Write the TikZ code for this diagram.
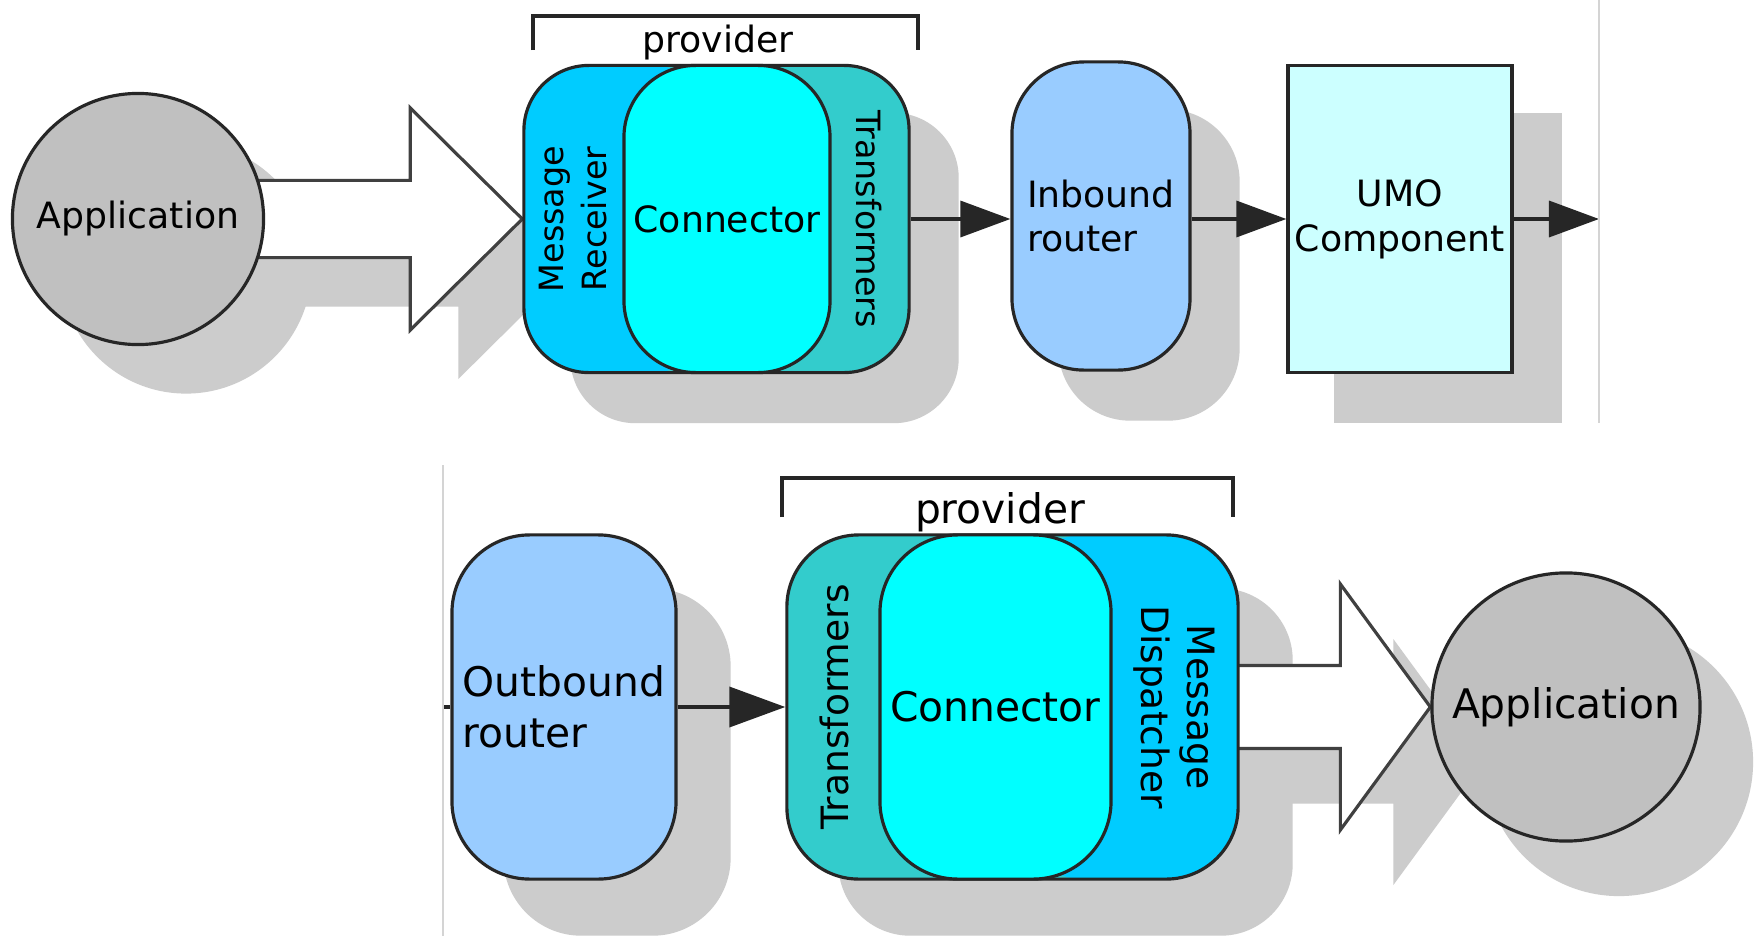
\documentclass[tikz,border=0pt]{standalone}
\usepackage{fontspec}
\newfontfamily\dejavu{DejaVu Sans}
\usetikzlibrary{arrows.meta,calc}
\definecolor{appgray}{HTML}{C0C0C0}
\definecolor{shadegray}{HTML}{CCCCCC}
\definecolor{recvblue}{HTML}{00CCFF}
\definecolor{connaqua}{HTML}{00FFFF}
\definecolor{transteal}{HTML}{33CCCC}
\definecolor{routerblue}{HTML}{99CCFF}
\definecolor{umocyan}{HTML}{CCFFFF}
\definecolor{framegray}{HTML}{D4D4D4}
\pgfdeclarelayer{shadows}
\pgfdeclarelayer{under}
\pgfsetlayers{shadows,under,main}

\begin{document}
\begin{tikzpicture}[x=0.01cm, y=-0.01cm,
  toptext/.style={font=\dejavu\fontsize{10.3}{12.7}\selectfont},
  topside/.style={font=\dejavu\fontsize{9.5}{12.4}\selectfont, align=center},
  bottext/.style={font=\dejavu\fontsize{11.6}{14.6}\selectfont},
  botside/.style={font=\dejavu\fontsize{10.7}{13}\selectfont, align=center},
  outline/.style={draw=black!85, line width=0.9pt, inner sep=0pt},
  appnode/.style={outline, circle, fill=appgray},
  provnode/.style={outline},
  connnode/.style={outline, fill=connaqua},
  routernode/.style={outline, fill=routerblue, align=left},
  umonode/.style={outline, fill=umocyan, align=center},
  flow/.style={draw=black!85, line width=1pt, -{Triangle[length=5mm,width=3.6mm]}},
  flowbig/.style={draw=black!85, line width=1.1pt, -{Triangle[length=5.6mm,width=4mm]}},
  hollow/.style={draw=black!75, line width=0.9pt, fill=white},
  bracket/.style={draw=black!85, line width=1.1pt},
  topshadow/.style={fill=shadegray, transform canvas={shift={(0.48cm,-0.49cm)}}},
  botshadow/.style={fill=shadegray, transform canvas={shift={(0.53cm,-0.55cm)}}}]
  \useasboundingbox (0,0) rectangle (1756,936);

  % Inbound chain
  \node[appnode, minimum size=2.51cm, toptext] (app1) at (138,219) {Application};
  \node[provnode, fill=transteal, rounded corners=0.65cm, minimum width=3.85cm, minimum height=3.07cm,
    path picture={\fill[recvblue] (path picture bounding box.south west) rectangle (path picture bounding box.north);}]
    (prov1) at (716.5,219) {};
  \node[connnode, rounded corners=0.72cm, minimum width=2.06cm, minimum height=3.07cm, toptext] (conn1) at (727,219) {Connector};
  \node[topside, rotate=90] (recv1) at (573,219) {Message\\Receiver};
  \node[topside, rotate=-90] (trans1) at (869,219) {Transformers};
  \node[routernode, rounded corners=0.72cm, minimum width=1.78cm, minimum height=3.08cm, toptext] (inb1) at (1101,216) {Inbound\\router};
  \node[umonode, minimum width=2.24cm, minimum height=3.07cm, toptext] (umo1) at (1400,219) {UMO\\Component};
  \coordinate (end1) at (1599,219);
  \draw[bracket] (533,50) |- (918,16) -- (918,50);
  \node[toptext] (plab1) at (718,43) {provider};

  \draw[flow] (prov1.east) -- (prov1.east -| inb1.west);
  \draw[flow] (inb1.east |- umo1.west) -- (umo1.west);
  \draw[flow] (umo1.east) -- (end1);

  % Outbound chain
  \coordinate (stub) at (443,707);
  \node[routernode, rounded corners=0.78cm, minimum width=2.24cm, minimum height=3.44cm, bottext] (outb2) at (564,707) {Outbound\\router};
  \node[provnode, fill=transteal, rounded corners=0.72cm, minimum width=4.51cm, minimum height=3.44cm,
    path picture={\fill[recvblue] (path picture bounding box.south east) rectangle (path picture bounding box.north);}]
    (prov2) at (1012.5,707) {};
  \node[connnode, rounded corners=0.78cm, minimum width=2.31cm, minimum height=3.44cm, bottext] (conn2) at (995.5,707) {Connector};
  \node[botside, rotate=90] (trans2) at (834,707) {Transformers};
  \node[botside, rotate=-90] (disp2) at (1174,707) {Message\\Dispatcher};
  \node[appnode, minimum size=2.68cm, bottext] (app2) at (1566,707) {Application};
  \draw[bracket] (782,517) |- (1233,478) -- (1233,517);
  \node[bottext] (plab2) at (1000,512) {provider};

  \draw[black!85, line width=1pt] (stub) -- (outb2.west);
  \draw[flowbig] (outb2.east) -- (prov2.west);

  % Panel edges
  \draw[framegray, line width=0.6pt] (1599,0) -- (1599,423);
  \draw[framegray, line width=0.6pt] (443,465) -- (443,936);

  % Hollow arrows
  \begin{pgfonlayer}{under}
    \draw[hollow] ($(app1.center)+(0,-38.6)$) -- ($(prov1.west)+(-112,-38.6)$) -- ++(0,-72.4) -- (prov1.west)
      -- ($(prov1.west)+(-112,111)$) -- ++(0,-72.4) -- ($(app1.center)+(0,38.6)$) -- cycle;
    \draw[hollow] ($(prov2.east)+(-50,-41.5)$) -- ($(app2.west)+(-90,-41.5)$) -- ++(0,-81.5) -- (app2.west)
      -- ($(app2.west)+(-90,123)$) -- ++(0,-81.5) -- ($(prov2.east)+(-50,41.5)$) -- cycle;
  \end{pgfonlayer}

  % Shadows
  \begin{pgfonlayer}{shadows}
    \fill[white] (0,0) rectangle (1756,936);
    \fill[topshadow] (app1.center) circle[radius=1.255cm];
    \fill[topshadow] ($(app1.center)+(0,-38.6)$) -- ($(prov1.west)+(-112,-38.6)$) -- ++(0,-72.4) -- (prov1.west)
      -- ($(prov1.west)+(-112,111)$) -- ++(0,-72.4) -- ($(app1.center)+(0,38.6)$) -- cycle;
    \fill[topshadow, rounded corners=0.65cm] (prov1.north west) rectangle (prov1.south east);
    \fill[topshadow, rounded corners=0.72cm] (inb1.north west) rectangle (inb1.south east);
    \fill[topshadow] (umo1.north west) rectangle (umo1.south east);
    \fill[botshadow, rounded corners=0.78cm] (outb2.north west) rectangle (outb2.south east);
    \fill[botshadow, rounded corners=0.72cm] (prov2.north west) rectangle (prov2.south east);
    \fill[botshadow] ($(prov2.east)+(-50,-41.5)$) -- ($(app2.west)+(-90,-41.5)$) -- ++(0,-81.5) -- (app2.west)
      -- ($(app2.west)+(-90,123)$) -- ++(0,-81.5) -- ($(prov2.east)+(-50,41.5)$) -- cycle;
    \fill[botshadow] (app2.center) circle[radius=1.34cm];
  \end{pgfonlayer}
\end{tikzpicture}
\end{document}
